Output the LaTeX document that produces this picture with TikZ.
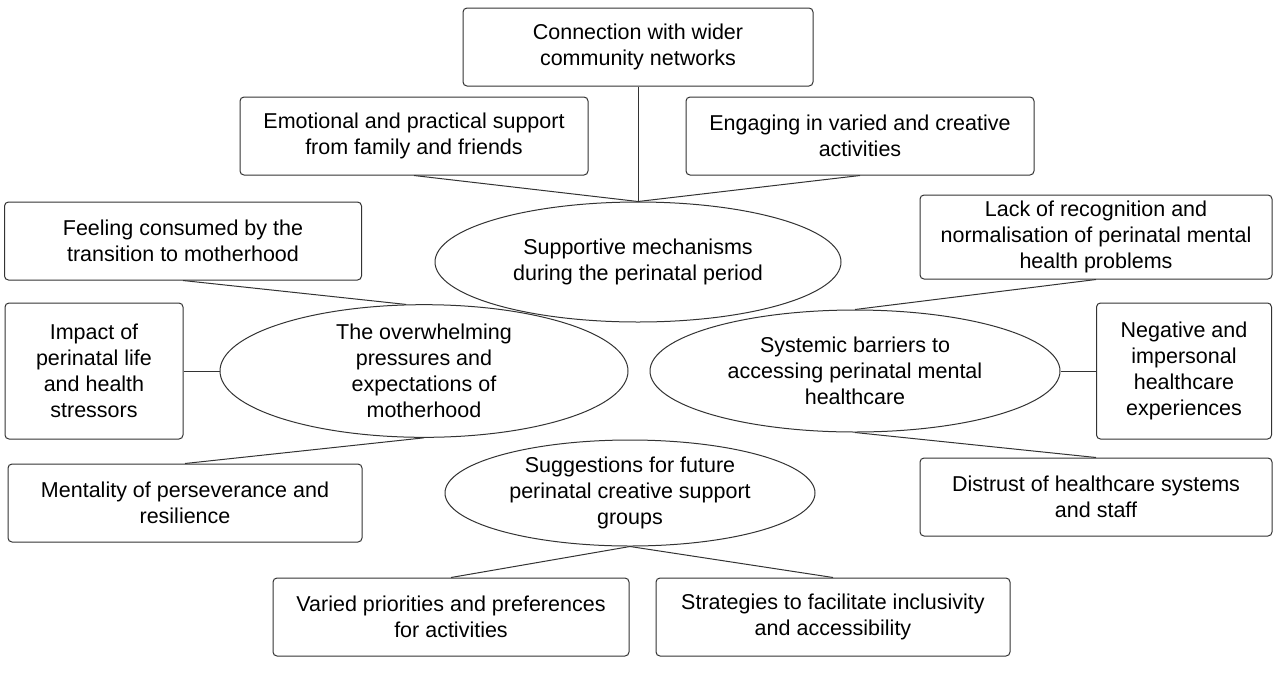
\documentclass[tikz,border=0pt]{standalone}
\usepackage{fontspec}
\setmainfont{Liberation Sans}
\usetikzlibrary{shapes.geometric}
\begin{document}
\begin{tikzpicture}[x=1pt,y=-1pt,
  every node/.style={font=\fontsize{21.5}{26}\selectfont, align=center, inner sep=0pt},
  bx/.style={draw=black!80, line width=1pt, rounded corners=4pt, minimum height=78pt},
  el/.style={draw=black!80, line width=1pt, ellipse, inner sep=0pt},
  ln/.style={draw=black!80, line width=1pt}]
\useasboundingbox (0,0) rectangle (1280,673);
\node[bx, minimum width=350pt] (con) at (638,47) {Connection with wider\\community networks};
\node[bx, minimum width=348pt] (emo) at (414,136) {Emotional and practical support\\from family and friends};
\node[bx, minimum width=348pt] (eng) at (860,136) {Engaging in varied and creative\\activities};
\node[bx, minimum width=357pt] (fee) at (183,241) {Feeling consumed by the\\transition to motherhood};
\node[bx, minimum width=352pt, minimum height=84pt] (lac) at (1096,237) {Lack of recognition and\\normalisation of perinatal mental\\health problems};
\node[bx, minimum width=178pt, minimum height=136pt] (imp) at (94,371) {Impact of\\perinatal life\\and health\\stressors};
\node[bx, minimum width=175pt, minimum height=136pt] (neg) at (1184,371) {Negative and\\impersonal\\healthcare\\experiences};
\node[bx, minimum width=354pt] (men) at (185,503) {Mentality of perseverance and\\resilience};
\node[bx, minimum width=352pt] (dis) at (1096,497) {Distrust of healthcare systems\\and staff};
\node[bx, minimum width=356pt] (var) at (451,617) {Varied priorities and preferences\\for activities};
\node[bx, minimum width=354pt] (str) at (833,617) {Strategies to facilitate inclusivity\\and accessibility};
\node[el, minimum width=406pt, minimum height=120pt] (sup) at (638,262) {Supportive mechanisms\\during the perinatal period};
\node[el, minimum width=408pt, minimum height=122pt] (ov) at (424,371) {The overwhelming\\pressures and\\expectations of\\motherhood};
\node[el, minimum width=410pt, minimum height=122pt] (sy) at (855,371) {Systemic barriers to\\accessing perinatal mental\\healthcare};
\node[el, minimum width=370pt, minimum height=106pt] (sug) at (630,493) {Suggestions for future\\perinatal creative support\\groups};
\draw[ln] (con.south) -- (sup.north);
\draw[ln] (emo.south) -- (sup.north);
\draw[ln] (eng.south) -- (sup.north);
\draw[ln] (fee.south) -- (ov.105);
\draw[ln] (lac.south) -- (sy.north);
\draw[ln] (imp.east) -- (ov.west);
\draw[ln] (neg.west) -- (sy.east);
\draw[ln] (men.north) -- (ov.south);
\draw[ln] (dis.north) -- (sy.south);
\draw[ln] (var.north) -- (sug.south);
\draw[ln] (str.north) -- (sug.south);
\end{tikzpicture}
\end{document}
